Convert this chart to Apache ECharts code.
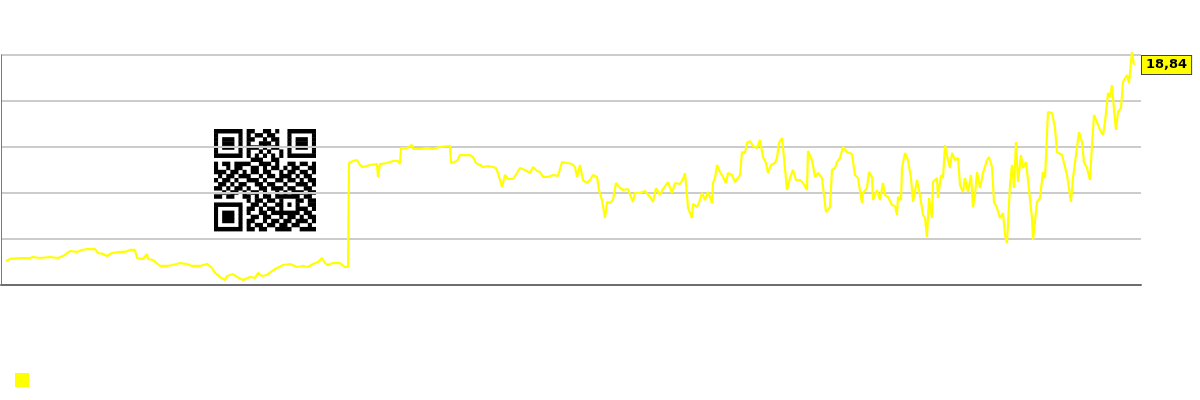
<!DOCTYPE html>
<html>
<head>
<meta charset="utf-8">
<title>Kurs</title>
<script src="https://cdn.jsdelivr.net/npm/echarts@6.0.0/dist/echarts.min.js"></script>
<style>
  html, body { margin: 0; padding: 0; background: #fff; }
  #chart { width: 1200px; height: 400px; }
</style>
</head>
<body>
<div id="chart"></div>
<script>
// trading sessions (x) and closing prices (y)
const sessions = [
  0, 4, 14, 24, 27, 34, 44, 52, 57, 64, 71, 76, 81, 89, 92, 97, 101, 106, 114, 119,
  124, 129, 131, 137, 141, 142, 147, 154, 161, 167, 174, 181, 186, 194, 201, 206, 209, 214, 219, 221,
  227, 231, 237, 244, 249, 252, 256, 261, 266, 271, 277, 284, 291, 297, 302, 307, 312, 316, 319, 322,
  327, 334, 339, 342,
  343, 347, 351, 354, 357, 364, 371, 372, 374, 381, 387, 392, 394, 395, 401, 406, 407, 414, 421, 427,
  434, 444, 445, 451, 454, 461, 464, 467, 470, 474, 477, 482, 487, 490, 492, 494, 496, 499, 502, 507,
  511, 514, 519, 524, 527, 531, 534, 537, 542, 547, 552, 556, 561, 566, 569, 571, 574, 577, 581, 584,
  587, 591, 593, 596, 599, 601, 604, 607, 608, 610, 614, 617, 622, 627, 629, 634, 639, 644, 647, 650,
  654, 657, 662, 666, 669, 674, 677, 679, 681, 682, 686, 687, 691, 693,
  696, 699, 702, 706, 707, 709, 711, 714, 717, 720, 722, 726, 729, 734, 736, 739, 741, 744, 747, 751,
  754, 757, 760, 762, 765, 769, 771, 773, 776, 778, 781, 784, 787, 790, 794, 797, 801, 802, 806, 809,
  812, 816, 818, 820, 824, 826, 829, 831, 834, 837, 841, 846, 849, 852, 856, 857, 861, 863, 866, 867,
  871, 874, 877, 879, 882, 886, 889, 891, 892, 895, 896, 899, 902,
  905, 907, 911, 914, 917, 919, 921, 923, 926, 927, 931, 932, 935, 937, 939, 942, 944, 946, 949, 952,
  954, 957, 959, 962, 965, 967, 969, 971, 974, 977, 981, 983, 986, 988, 991, 994, 997, 999, 1001, 1004,
  1006, 1008, 1010, 1012, 1015, 1017, 1020, 1022, 1026, 1027, 1029, 1031, 1034, 1037, 1039, 1042, 1046, 1049, 1051, 1056,
  1058, 1061, 1065, 1067, 1070, 1073, 1076, 1078, 1081, 1084, 1086, 1088, 1091, 1094, 1097, 1099, 1102, 1104, 1106, 1108,
  1110, 1112, 1115, 1117, 1119, 1121, 1123, 1125, 1126, 1128
];

const closes = [
  2.06, 2.23, 2.31, 2.31, 2.40, 2.31, 2.40, 2.31, 2.48, 2.91, 2.83, 3.00, 3.08, 3.08, 2.74, 2.66, 2.48, 2.74, 2.83, 2.83,
  3.00, 3.00, 2.31, 2.23, 2.66, 2.23, 2.14, 1.63, 1.63, 1.71, 1.88, 1.80, 1.63, 1.63, 1.80, 1.46, 1.03, 0.69, 0.43, 0.77,
  0.94, 0.69, 0.43, 0.69, 0.60, 1.03, 0.77, 0.86, 1.20, 1.46, 1.71, 1.80, 1.54, 1.63, 1.54, 1.80, 1.97, 2.31, 1.88, 1.71,
  1.88, 1.88, 1.54, 1.54,
  10.45, 10.62, 10.71, 10.28, 10.11, 10.28, 10.36, 9.25, 10.36, 10.45, 10.62, 10.62, 10.36, 11.73, 11.73, 11.99, 11.65, 11.65, 11.73, 11.65,
  11.82, 11.91, 10.45, 10.62, 11.13, 11.13, 11.13, 10.96, 10.45, 10.28, 10.11, 10.19, 10.11, 10.02, 9.59, 9.68, 8.39, 9.42, 9.08, 9.08,
  9.59, 10.02, 9.85, 9.59, 10.11, 9.76, 9.68, 9.25, 9.25, 9.42, 9.34, 10.53, 10.45, 10.36, 10.11, 9.25, 10.28, 8.99, 8.74, 8.99,
  9.42, 9.25, 8.14, 7.28, 5.74, 7.11, 7.02, 7.28, 7.11, 8.74, 8.31, 8.14, 8.22, 7.11, 7.88, 7.88, 8.05, 7.54, 7.11, 8.31,
  7.71, 8.22, 8.82, 7.88, 8.74, 8.65, 9.08, 9.59, 7.71, 6.60, 5.74, 6.94, 6.68, 7.02,
  7.88, 7.28, 7.97, 7.02, 8.74, 9.16, 10.28, 9.68, 9.25, 8.74, 9.59, 9.42, 8.82, 9.42, 11.39, 11.31, 12.16, 12.33, 11.91, 11.73,
  12.42, 10.96, 10.45, 9.59, 10.28, 10.45, 10.88, 12.16, 12.59, 10.88, 8.14, 9.16, 9.85, 8.99, 8.99, 8.74, 8.14, 11.48, 10.71, 9.25,
  9.59, 9.16, 9.25, 6.25, 6.68, 9.85, 10.02, 10.53, 10.88, 11.82, 11.39, 11.22, 9.42, 9.16, 7.02, 7.88, 8.31, 9.68, 9.25, 7.28,
  8.14, 7.28, 8.74, 7.71, 7.54, 6.85, 6.77, 6.00, 7.54, 7.28, 10.02, 11.31, 10.71,
  9.16, 7.11, 8.99, 7.71, 6.00, 5.74, 4.11, 7.45, 5.74, 8.82, 9.16, 7.45, 9.42, 9.16, 11.99, 10.71, 10.02, 11.31, 10.71, 10.88,
  8.57, 7.97, 9.16, 7.97, 9.42, 6.68, 7.71, 9.68, 8.31, 9.59, 10.71, 10.96, 10.11, 7.11, 6.60, 5.74, 6.17, 4.28, 3.60, 8.57,
  10.28, 8.31, 12.25, 8.82, 11.13, 10.02, 10.53, 8.99, 5.74, 3.85, 3.85, 7.11, 7.45, 9.68, 9.16, 14.82, 14.73, 13.45, 11.39, 11.13,
  10.45, 9.42, 7.11, 9.16, 11.13, 13.10, 12.25, 10.53, 10.02, 8.99, 11.99, 14.56, 13.96, 13.28, 12.85, 13.96, 16.44, 16.10, 17.13, 14.99,
  13.28, 14.82, 15.16, 17.39, 17.56, 17.99, 17.30, 17.39, 19.96, 18.84
];

// QR code overlay, 25x25 modules
const qrRows = [
  "1111111011001101001111111",
  "1000001010110110001000001",
  "1011101011001011001011101",
  "1011101010011101001011101",
  "1011101011101011001011101",
  "1000001010010100101000001",
  "1111111010101010101111111",
  "0000000001110011000000000",
  "1011011110011101001101101",
  "1001011001101011010110011",
  "1110110101101100101101101",
  "0101101110010110111010110",
  "1011010011101001101101011",
  "0110101100110110010011101",
  "1101011010011011101100110",
  "0010110101101001010111011",
  "1101100110101101111110110",
  "0000000010110110100011011",
  "1111111001101001101010011",
  "1000001011010110100011101",
  "1011101010011011111110110",
  "1011101001101100101101011",
  "1011101011001011011011101",
  "1000001010110110110110010",
  "1111111011011001111001111"
];

function qrGraphic(x0, y0, cell) {
  const children = [{
    type: 'rect',
    shape: { x: x0 - 4, y: y0 - 4, width: cell * 25 + 10, height: cell * 25 + 8 },
    style: { fill: '#ffffff' }
  }];
  qrRows.forEach((row, r) => {
    let c = 0;
    while (c < row.length) {
      if (row[c] === '1') {
        let e = c;
        while (e < row.length && row[e] === '1') e++;
        children.push({
          type: 'rect',
          shape: { x: x0 + c * cell, y: y0 + r * cell, width: (e - c) * cell, height: cell + 0.4 },
          style: { fill: '#000000' }
        });
        c = e;
      } else {
        c++;
      }
    }
  });
  return { type: 'group', z: 100, children: children };
}

const chart = echarts.init(document.getElementById('chart'));

chart.setOption({
  animation: false,
  backgroundColor: '#ffffff',
  textStyle: { fontFamily: 'DejaVu Sans' },
  grid: { left: 1, right: 59, top: 55, bottom: 115, containLabel: false },
  legend: {
    left: 10,
    top: 368,
    itemWidth: 14,
    itemHeight: 14,
    icon: 'rect',
    formatter: () => '',
    data: ['Kurs']
  },
  xAxis: {
    type: 'value',
    min: -5,
    max: 1135,
    axisLine: { show: true, onZero: false, lineStyle: { color: '#6e6e6e', width: 2 } },
    axisTick: { show: false },
    axisLabel: { show: false },
    splitLine: { show: false }
  },
  yAxis: {
    type: 'value',
    min: 0,
    max: 19.7,
    interval: 3.94,
    axisLine: { show: true, onZero: false, lineStyle: { color: '#7a7a7a', width: 1 } },
    axisTick: { show: false },
    axisLabel: { show: false },
    splitLine: { show: true, lineStyle: { color: '#cccccc', width: 2 } }
  },
  graphic: [qrGraphic(214, 129, 4.08)],
  series: [{
    name: 'Kurs',
    type: 'line',
    data: sessions.map((s, i) => [s, closes[i]]),
    showSymbol: false,
    clip: false,
    color: '#ffff00',
    lineStyle: { color: '#ffff00', width: 2.2 },
    itemStyle: { color: '#ffff00' },
    endLabel: {
      show: true,
      distance: 8,
      formatter: (p) => p.value[1].toFixed(2).replace('.', ','),
      backgroundColor: '#ffff00',
      borderColor: '#444444',
      borderWidth: 1,
      padding: [3, 4, 2, 4],
      color: '#000000',
      fontWeight: 'bold',
      fontSize: 13,
      fontFamily: 'DejaVu Sans'
    }
  }]
});
</script>
</body>
</html>
